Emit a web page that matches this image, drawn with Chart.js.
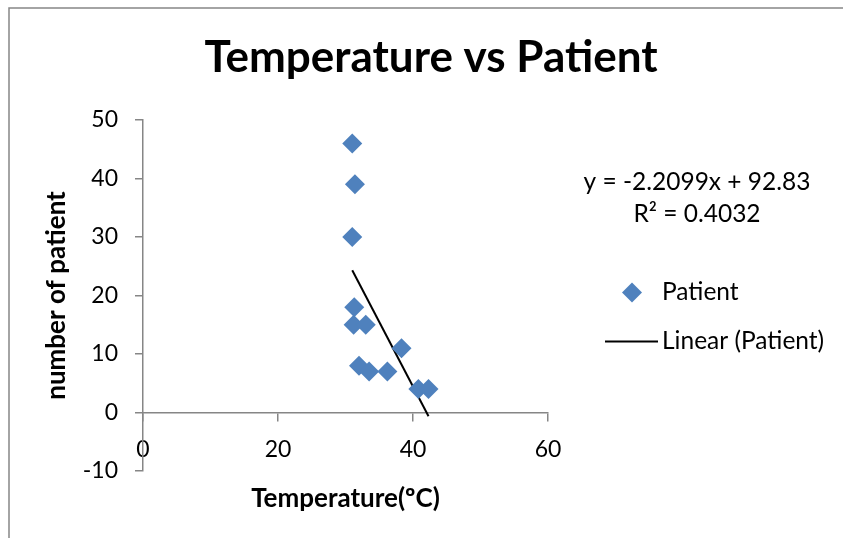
<!DOCTYPE html>
<html>
<head>
<meta charset="utf-8">
<script src="https://cdn.jsdelivr.net/npm/chart.js@4.4.1/dist/chart.umd.min.js"></script>
<style>
  html, body { margin: 0; padding: 0; background: #fff; }
  canvas { display: block; }
</style>
</head>
<body>
<canvas id="canvas" width="843" height="538"></canvas>
<script>
// values
var temperature = [31, 31.4, 31, 31.3, 31.2, 33, 32, 33.5, 36.2, 38.3, 40.8, 42.3];
var patients    = [46, 39, 30, 18, 15, 15, 8, 7, 7, 11, 4, 4];
var xTicks = [0, 20, 40, 60];
var yTicks = [-10, 0, 10, 20, 30, 40, 50];
var trendSlope = -2.2099;
var trendIntercept = 92.83;

var chartTitle = 'Temperature vs Patient';
var xTitle = 'Temperature(\u00baC)';
var yTitle = 'number of patient';
var eqLines = ['y = -2.2099x + 92.83', 'R\u00b2 = 0.4032'];

var blue = '#4F81BD';
var axisGrey = '#868686';
var fontFamily = 'Lato, "Open Sans", sans-serif';

var points = temperature.map(function (t, i) { return {x: t, y: patients[i]}; });
var xLo = Math.min.apply(null, temperature);
var xHi = Math.max.apply(null, temperature);
var trend = [
  {x: xLo, y: trendSlope * xLo + trendIntercept},
  {x: xHi, y: trendSlope * xHi + trendIntercept}
];

// title, legend, equation and frame
var extras = {
  id: 'extras',
  beforeDraw: function (chart) {
    var ctx = chart.ctx;
    ctx.save();
    ctx.strokeStyle = axisGrey;
    ctx.lineWidth = 1.5;
    ctx.strokeRect(9, 8, 2000, 2000);
    ctx.restore();
  },
  afterDraw: function (chart) {
    var ctx = chart.ctx;
    ctx.save();
    ctx.fillStyle = '#000';
    ctx.textBaseline = 'middle';
    ctx.textAlign = 'center';
    ctx.font = 'bold 44px ' + fontFamily;
    ctx.fillText(chartTitle, 431, 58);

    ctx.font = '24.5px ' + fontFamily;
    ctx.fillText(eqLines[0], 697, 182);
    ctx.fillText(eqLines[1], 697, 214);

    var ds = chart.data.datasets;
    // diamond
    ctx.fillStyle = ds[0].backgroundColor;
    ctx.beginPath();
    ctx.moveTo(622, 292.5);
    ctx.lineTo(632, 282.5);
    ctx.lineTo(642, 292.5);
    ctx.lineTo(632, 302.5);
    ctx.closePath();
    ctx.fill();
    // line sample
    ctx.strokeStyle = ds[1].borderColor;
    ctx.lineWidth = 2;
    ctx.beginPath();
    ctx.moveTo(605, 341.5);
    ctx.lineTo(658, 341.5);
    ctx.stroke();

    ctx.fillStyle = '#000';
    ctx.textAlign = 'left';
    ctx.fillText(ds[0].label, 662, 292);
    ctx.fillText(ds[1].label, 662, 341);
    ctx.restore();
  }
};

var config = {
  type: 'scatter',
  data: {
    datasets: [{
      label: 'Patient',
      data: points,
      pointStyle: 'rectRot',
      pointRadius: 10,
      pointHoverRadius: 10,
      backgroundColor: blue,
      borderColor: blue,
      borderWidth: 0
    }, {
      label: 'Linear (Patient)',
      type: 'line',
      data: trend,
      showLine: true,
      borderColor: '#000',
      borderWidth: 2,
      pointRadius: 0,
      fill: false
    }]
  },
  options: {
    responsive: false,
    animation: false,
    layout: { padding: { left: 0, top: 120, right: 295, bottom: 67 } },
    plugins: {
      legend: { display: false },
      title: { display: false },
      tooltip: { enabled: false }
    },
    scales: {
      x: {
        type: 'linear',
        position: { y: 0 },
        min: 0,
        max: 60,
        afterBuildTicks: function (scale) {
          scale.ticks = xTicks.map(function (v) { return {value: v}; });
        },
        grid: { drawOnChartArea: false, tickLength: 8, color: axisGrey, lineWidth: 1.5 },
        border: { color: axisGrey, width: 1.5 },
        ticks: { padding: 15, color: '#000', font: { family: fontFamily, size: 23 }, maxRotation: 0 },
        title: {
          display: true,
          text: xTitle,
          color: '#000',
          font: { family: fontFamily, size: 26, weight: 'bold' },
          padding: { top: 5, bottom: 0 }
        }
      },
      y: {
        type: 'linear',
        position: 'left',
        min: -10,
        max: 50,
        afterBuildTicks: function (scale) {
          scale.ticks = yTicks.map(function (v) { return {value: v}; });
        },
        afterFit: function (scale) { scale.width = 143; },
        grid: { drawOnChartArea: false, tickLength: 8, color: axisGrey, lineWidth: 1.5 },
        border: { color: axisGrey, width: 1.5 },
        ticks: { padding: 17, color: '#000', font: { family: fontFamily, size: 23 } },
        title: {
          display: true,
          text: yTitle,
          color: '#000',
          font: { family: fontFamily, size: 26, weight: 'bold' },
          padding: { top: 41, bottom: 0 }
        }
      }
    }
  },
  plugins: [extras]
};

window.myScatter = new Chart(document.getElementById('canvas'), config);
</script>
</body>
</html>
